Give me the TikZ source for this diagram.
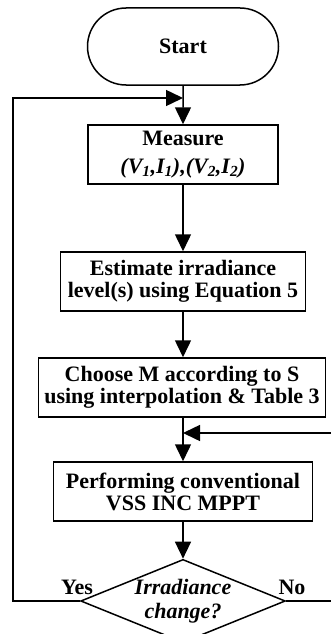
\documentclass[tikz,border=0pt]{standalone}
\usepackage{fontspec}
\setmainfont{Liberation Serif}
\usetikzlibrary{shapes.geometric,shapes.misc,arrows.meta}
\begin{document}
\begin{tikzpicture}[x=1pt,y=1pt,line width=1.5pt,
 font=\fontsize{22}{22}\selectfont\bfseries,
 term/.style={draw,rounded rectangle,minimum width=191pt,minimum height=77pt,inner sep=0pt},
 pr/.style={draw,minimum height=59pt,inner sep=0pt,align=center},
 dc/.style={draw,diamond,aspect=2.46,minimum width=187pt,minimum height=76pt,inner sep=0pt,align=center,
   font=\fontsize{22}{24}\selectfont\bfseries\itshape},
 a/.style={-{Triangle[length=17pt,width=16pt]}},yl/.style={inner sep=0pt}]
\useasboundingbox (0,0) rectangle (330,-634);
\node[term] (st) at (183,-46.5) {Start};
\node[pr,minimum width=190pt] (ms) at (183,-154.5) {Measure\\[6pt]\textit{(V\textsubscript{1},I\textsubscript{1}),(V\textsubscript{2},I\textsubscript{2})}};
\node[pr,minimum width=245pt] (es) at (183,-281.5) {Estimate irradiance\\level(s) using Equation 5};
\node[pr,minimum width=287pt] (ch) at (182,-387.5) {Choose M according to S\\using interpolation \& Table 3};
\node[pr,minimum width=259pt] (pf) at (183,-491.5) {Performing conventional\\VSS INC MPPT};
\node[dc] (ir) at (183,-601) {Irradiance\\change?};
\node[yl] (ys) at (77,-587) {Yes};
\node[yl] (no) at (292,-587) {No};
\coordinate (j1) at (183,-98); \coordinate (j2) at (183,-433);
\coordinate (yb) at (13,-601); \coordinate (nb) at (337,-601);
\draw[a] (st) -- (ms); \draw[a] (ms) -- (es);
\draw[a] (es.south) -- (es.south |- ch.north); \draw[a] (es.south |- ch.south) -- (pf.north);
\draw[a] (pf) -- (ir);
\draw[a] (ir.west) -- (yb) |- (j1);
\draw[a] (ir.east) -- (nb) |- (j2);
\end{tikzpicture}
\end{document}
